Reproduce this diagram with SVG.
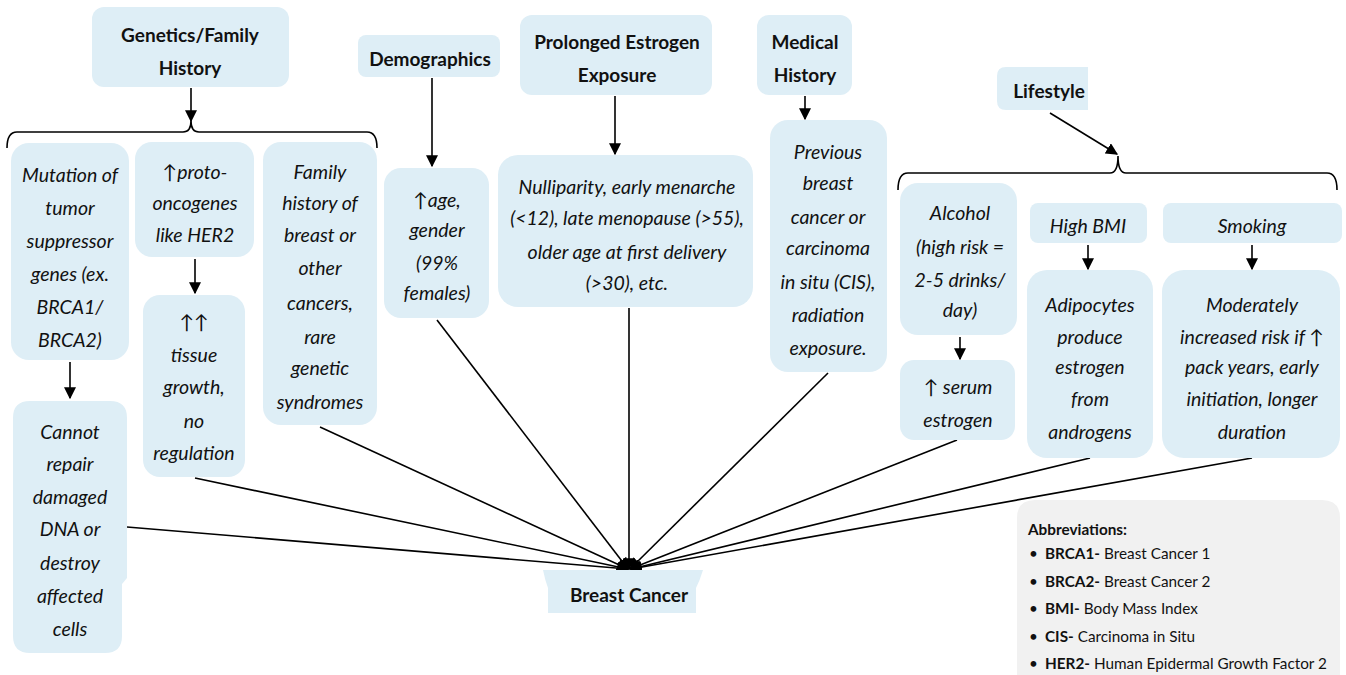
<svg xmlns="http://www.w3.org/2000/svg" width="1346" height="675" viewBox="0 0 1346 675">
<defs>
<marker id="ah2" viewBox="0 0 10 10" refX="9" refY="5" markerWidth="12" markerHeight="12" markerUnits="userSpaceOnUse" orient="auto">
<path d="M0,0 L10,5 L0,10 Z" fill="#000"/>
</marker>
</defs>
<style>
.box{fill:#deeef6;}
.abbr{fill:#f1f1f1;}
.hd{font-family:Lato,"Liberation Sans",sans-serif;font-weight:bold;font-size:19px;fill:#111;text-anchor:middle;}
.it{font-family:Lato,"Liberation Sans",sans-serif;font-style:italic;font-size:19.5px;fill:#111;text-anchor:middle;}
.ab{font-family:Lato,"Liberation Sans",sans-serif;font-size:15.3px;fill:#111;}
.ab tspan.b{font-weight:bold;}
.ln{stroke:#000;stroke-width:1.6;fill:none;}
</style>
<rect width="1346" height="675" fill="#fff"/>

<g id="connectors">
<path class="ln" d="M191,88 L191,121" marker-end="url(#ah2)"/>
<path class="ln" d="M7,148 Q7,132 17,132 L183,132 Q191,132 191,121 Q191,132 199,132 L367,132 Q377,132 377,148"/>
<path class="ln" d="M70,362 L70,398" marker-end="url(#ah2)"/>
<path class="ln" d="M195,259 L195,293" marker-end="url(#ah2)"/>
<path class="ln" d="M432,78 L432,166" marker-end="url(#ah2)"/>
<path class="ln" d="M615,96 L615,154" marker-end="url(#ah2)"/>
<path class="ln" d="M805,96 L805,119" marker-end="url(#ah2)"/>
<path class="ln" d="M1050,113 L1117,154" marker-end="url(#ah2)"/>
<path class="ln" d="M898,190 Q898,173 908,173 L1110,173 Q1118,173 1118,156 Q1118,173 1126,173 L1327,173 Q1337,173 1337,190"/>
<path class="ln" d="M960,337 L960,359" marker-end="url(#ah2)"/>
<path class="ln" d="M1088,245 L1088,269" marker-end="url(#ah2)"/>
<path class="ln" d="M1252,245 L1252,269" marker-end="url(#ah2)"/>
<g marker-end="url(#ah2)">
<path class="ln" d="M127,527 L628,569"/>
<path class="ln" d="M195,478 L628,569"/>
<path class="ln" d="M320,427 L628,569"/>
<path class="ln" d="M437,320 L628,569"/>
<path class="ln" d="M629,308 L629,569"/>
<path class="ln" d="M828,373 L630,569"/>
<path class="ln" d="M957,440 L630,569"/>
<path class="ln" d="M1090,458 L631,569"/>
<path class="ln" d="M1252,458 L631,569"/>
</g>
</g>

<g id="genetics">
<rect class="box" x="92" y="7" width="197" height="80" rx="12"/>
<text class="hd" x="190" y="42">Genetics/Family</text>
<text class="hd" x="190" y="75">History</text>
</g>

<g id="mutation">
<rect class="box" x="11" y="143" width="118" height="217" rx="18"/>
<text class="it" x="70" y="182">Mutation of</text>
<text class="it" x="70" y="215">tumor</text>
<text class="it" x="70" y="248">suppressor</text>
<text class="it" x="70" y="281">genes (ex.</text>
<text class="it" x="70" y="314">BRCA1/</text>
<text class="it" x="70" y="347">BRCA2)</text>
</g>

<g id="cannot">
<path class="box" d="M30,401 L110,401 Q127,401 127,418 L127,578 L122,584 L122,636 Q122,653 105,653 L30,653 Q13,653 13,636 L13,418 Q13,401 30,401 Z"/>
<text class="it" x="70" y="439">Cannot</text>
<text class="it" x="70" y="471">repair</text>
<text class="it" x="70" y="504">damaged</text>
<text class="it" x="70" y="536">DNA or</text>
<text class="it" x="70" y="570">destroy</text>
<text class="it" x="70" y="603">affected</text>
<text class="it" x="70" y="636">cells</text>
</g>

<g id="proto">
<rect class="box" x="135" y="142" width="119" height="115" rx="17"/>
<text class="it" x="195" y="179">↑proto-</text>
<text class="it" x="195" y="210">oncogenes</text>
<text class="it" x="195" y="242">like HER2</text>
</g>

<g id="tissue">
<rect class="box" x="143" y="295" width="102" height="182" rx="17"/>
<text class="it" x="194" y="329">↑↑</text>
<text class="it" x="194" y="362">tissue</text>
<text class="it" x="194" y="394">growth,</text>
<text class="it" x="194" y="428">no</text>
<text class="it" x="194" y="460">regulation</text>
</g>

<g id="family">
<rect class="box" x="263" y="142" width="114" height="283" rx="18"/>
<text class="it" x="320" y="179">Family</text>
<text class="it" x="320" y="210">history of</text>
<text class="it" x="320" y="242">breast or</text>
<text class="it" x="320" y="275">other</text>
<text class="it" x="320" y="310">cancers,</text>
<text class="it" x="320" y="344">rare</text>
<text class="it" x="320" y="375">genetic</text>
<text class="it" x="320" y="409">syndromes</text>
</g>

<g id="demographics">
<rect class="box" x="358" y="35" width="142" height="42" rx="8"/>
<text class="hd" x="430" y="66">Demographics</text>
</g>

<g id="age">
<rect class="box" x="384" y="168" width="105" height="150" rx="17"/>
<text class="it" x="437" y="207">↑age,</text>
<text class="it" x="437" y="237">gender</text>
<text class="it" x="437" y="270">(99%</text>
<text class="it" x="437" y="300">females)</text>
</g>

<g id="estrogen">
<rect class="box" x="520" y="15" width="192" height="80" rx="12"/>
<text class="hd" x="617" y="49">Prolonged Estrogen</text>
<text class="hd" x="617" y="82">Exposure</text>
</g>

<g id="nulliparity">
<rect class="box" x="498" y="155" width="255" height="152" rx="20"/>
<text class="it" x="627" y="194">Nulliparity, early menarche</text>
<text class="it" x="627" y="225">(&lt;12), late menopause (&gt;55),</text>
<text class="it" x="627" y="259">older age at first delivery</text>
<text class="it" x="627" y="290">(&gt;30), etc.</text>
</g>

<g id="medical">
<rect class="box" x="757" y="15" width="95" height="80" rx="12"/>
<text class="hd" x="805" y="49">Medical</text>
<text class="hd" x="805" y="82">History</text>
</g>

<g id="previous">
<rect class="box" x="770" y="120" width="117" height="252" rx="18"/>
<text class="it" x="828" y="159">Previous</text>
<text class="it" x="828" y="190">breast</text>
<text class="it" x="828" y="224">cancer or</text>
<text class="it" x="828" y="255">carcinoma</text>
<text class="it" x="828" y="289">in situ (CIS),</text>
<text class="it" x="828" y="322">radiation</text>
<text class="it" x="828" y="355">exposure.</text>
</g>

<g id="lifestyle">
<path class="box" d="M1006,67 L1088,67 L1088,110 L1006,110 Q997,110 997,101 L997,76 Q997,67 1006,67 Z"/>
<text class="hd" x="1049" y="98">Lifestyle</text>
</g>

<g id="alcohol">
<rect class="box" x="900" y="183" width="117" height="152" rx="18"/>
<text class="it" x="960" y="220">Alcohol</text>
<text class="it" x="960" y="254">(high risk =</text>
<text class="it" x="960" y="287">2-5 drinks/</text>
<text class="it" x="960" y="317">day)</text>
</g>

<g id="serum">
<rect class="box" x="900" y="360" width="115" height="80" rx="14"/>
<text class="it" x="958" y="394">↑ serum</text>
<text class="it" x="958" y="427">estrogen</text>
</g>

<g id="bmi">
<rect class="box" x="1030" y="203" width="117" height="40" rx="8"/>
<text class="it" x="1088" y="233">High BMI</text>
</g>

<g id="adipocytes">
<rect class="box" x="1027" y="270" width="126" height="188" rx="20"/>
<text class="it" x="1090" y="312">Adipocytes</text>
<text class="it" x="1090" y="344">produce</text>
<text class="it" x="1090" y="374">estrogen</text>
<text class="it" x="1090" y="406">from</text>
<text class="it" x="1090" y="439">androgens</text>
</g>

<g id="smoking">
<rect class="box" x="1163" y="203" width="179" height="40" rx="8"/>
<text class="it" x="1252" y="233">Smoking</text>
</g>

<g id="moderately">
<rect class="box" x="1162" y="270" width="178" height="188" rx="22"/>
<text class="it" x="1252" y="312">Moderately</text>
<text class="it" x="1252" y="344">increased risk if ↑</text>
<text class="it" x="1252" y="374">pack years, early</text>
<text class="it" x="1252" y="406">initiation, longer</text>
<text class="it" x="1252" y="439">duration</text>
</g>

<g id="breast-cancer">
<path class="box" d="M543,570 L703,570 Q700,580 696,588 L696,613 L548,613 L548,588 Q545,580 543,570 Z"/>
<text class="hd" x="629" y="602">Breast Cancer</text>
</g>

<g id="abbreviations">
<path class="abbr" d="M1035,500 L1322,500 Q1340,500 1340,518 L1340,675 L1017,675 L1017,518 Q1017,500 1035,500 Z"/>
<text class="ab" x="1028" y="535" font-weight="bold" font-size="16">Abbreviations:</text>
<text class="ab" x="1029" y="559">•</text>
<text class="ab" x="1045" y="559"><tspan class="b">BRCA1-</tspan> Breast Cancer 1</text>
<text class="ab" x="1029" y="587">•</text>
<text class="ab" x="1045" y="587"><tspan class="b">BRCA2-</tspan> Breast Cancer 2</text>
<text class="ab" x="1029" y="614">•</text>
<text class="ab" x="1045" y="614"><tspan class="b">BMI-</tspan> Body Mass Index</text>
<text class="ab" x="1029" y="642">•</text>
<text class="ab" x="1045" y="642"><tspan class="b">CIS-</tspan> Carcinoma in Situ</text>
<text class="ab" x="1029" y="669">•</text>
<text class="ab" x="1045" y="669"><tspan class="b">HER2-</tspan> Human Epidermal Growth Factor 2</text>
</g>
</svg>
